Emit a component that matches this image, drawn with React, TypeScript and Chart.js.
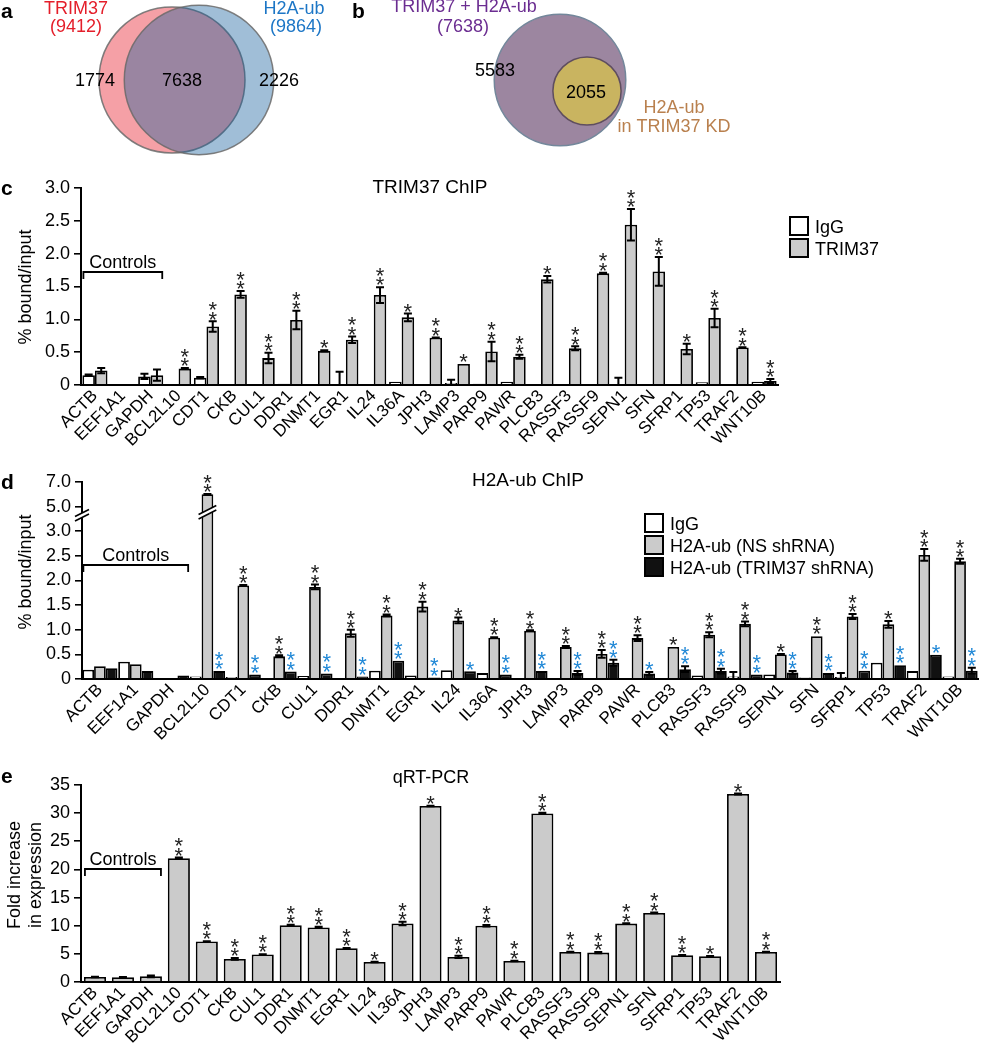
import React, { useEffect, useRef } from 'react';
import { Chart, registerables, LinearScale } from 'chart.js';

Chart.register(...registerables);

const FONT = "'Liberation Sans', Arial, Helvetica, sans-serif";
Chart.defaults.font.family = FONT;
Chart.defaults.color = '#000';

// ---------------- data ----------------
const categories = ['ACTB', 'EEF1A1', 'GAPDH', 'BCL2L10', 'CDT1', 'CKB', 'CUL1', 'DDR1', 'DNMT1', 'EGR1', 'IL24', 'IL36A', 'JPH3', 'LAMP3', 'PARP9', 'PAWR', 'PLCB3', 'RASSF3', 'RASSF9', 'SEPN1', 'SFN', 'SFRP1', 'TP53', 'TRAF2', 'WNT10B'];

// a: Venn TRIM37 vs H2A-ub
const vennALabels = ['TRIM37', 'H2A-ub'];
const vennATotals = [9412, 9864];
const vennARegions = [1774, 7638, 2226];
// b: Venn TRIM37 + H2A-ub vs H2A-ub in TRIM37 KD
const vennBLabels = ['TRIM37 + H2A-ub', 'H2A-ub', 'in TRIM37 KD'];
const vennBTotals = [7638, 2055];
const vennBRegions = [5583, 2055];

// c: TRIM37 ChIP
const cIgG = [0.15, null, 0.13, 0.01, 0.11, 0.01, 0.01, 0.02, 0.01, 0.01, 0.01, 0.05, 0, 0.03, 0.02, 0.05, 0, 0.01, 0.01, 0.01, 0.01, 0, 0.04, 0.01, 0.05];
const cIgGErr = [0.01, 0, 0.04, 0, 0.01, 0, 0, 0, 0, 0.19, 0, 0, 0, 0.05, 0, 0, 0, 0, 0, 0.1, 0, 0, 0, 0, 0];
const cTrim = [0.22, null, 0.15, 0.25, 0.89, 1.38, 0.41, 0.99, 0.52, 0.69, 1.37, 1.03, 0.72, 0.32, 0.51, 0.43, 1.61, 0.56, 1.70, 2.44, 1.73, 0.55, 1.02, 0.57, 0.06];
const cTrimErr = [0.04, 0, 0.085, 0.01, 0.08, 0.05, 0.08, 0.14, 0.01, 0.05, 0.12, 0.06, 0.005, 0, 0.15, 0.03, 0.05, 0.03, 0.01, 0.24, 0.22, 0.08, 0.14, 0.005, 0.03];
const cTrimStars = [0, 0, 0, 2, 2, 2, 2, 2, 1, 2, 2, 1, 2, 1, 2, 2, 1, 2, 2, 2, 2, 1, 2, 2, 2];
const cYTicks = [0, 0.5, 1, 1.5, 2, 2.5, 3];

// d: H2A-ub ChIP
const dIgG = [0.19, 0.35, 0, 0.05, 0.04, 0.01, 0.06, 0.01, 0.17, 0.07, 0.18, 0.12, 0.01, 0.01, 0.01, 0.01, 0.01, 0.07, 0.05, 0.09, 0.03, 0.04, 0.33, 0.16, 0.05];
const dIgGErr = [0, 0, 0, 0, 0, 0, 0, 0, 0, 0, 0, 0, 0, 0, 0, 0, 0, 0, 0.09, 0, 0, 0.08, 0, 0, 0];
const dNS = [0.26, 0.30, 0, 6.0, 1.90, 0.46, 1.87, 0.93, 1.29, 1.47, 1.19, 0.84, 0.98, 0.65, 0.51, 0.83, 0.65, 0.90, 1.12, 0.50, 0.87, 1.27, 1.11, 2.52, 2.39];
const dNSErr = [0, 0, 0, 0.03, 0.01, 0.02, 0.05, 0.07, 0.02, 0.10, 0.06, 0.01, 0.01, 0.02, 0.08, 0.06, 0, 0.05, 0.05, 0.01, 0, 0.05, 0.07, 0.12, 0.05];
const dNSStars = [0, 0, 0, 2, 2, 2, 2, 2, 2, 2, 1, 2, 2, 2, 2, 2, 1, 2, 2, 1, 2, 2, 1, 2, 2];
const dKD = [0.22, 0.16, 0.07, 0.16, 0.09, 0.15, 0.11, 0.05, 0.37, 0.03, 0.155, 0.09, 0.16, 0.12, 0.33, 0.11, 0.20, 0.16, 0.09, 0.13, 0.12, 0.17, 0.28, 0.49, 0.17];
const dKDErr = [0, 0, 0, 0, 0, 0, 0, 0, 0, 0, 0, 0, 0, 0.04, 0.06, 0.03, 0.06, 0.05, 0, 0.03, 0, 0, 0, 0, 0.06];
const dKDStars = [0, 0, 0, 2, 2, 2, 2, 2, 2, 2, 1, 2, 2, 2, 2, 1, 2, 2, 2, 2, 2, 2, 2, 1, 2];
const dYTicks = [0, 0.5, 1, 1.5, 2, 2.5, 3, 5, 7];

// e: qRT-PCR
const eFold = [0.9, 0.85, 1.0, 22.0, 7.2, 4.1, 4.9, 10.1, 9.7, 6.0, 3.56, 10.4, 31.26, 4.45, 10.0, 3.74, 29.95, 5.34, 5.22, 10.38, 12.28, 4.75, 4.57, 33.4, 5.34];
const eErr = [0.05, 0.05, 0.15, 0.1, 0.05, 0.15, 0.05, 0.05, 0.1, 0.05, 0.05, 0.3, 0.05, 0.2, 0.12, 0.05, 0.1, 0.05, 0.1, 0.05, 0.05, 0.05, 0.05, 0.1, 0.05];
const eStars = [0, 0, 0, 2, 2, 2, 2, 2, 2, 2, 1, 2, 1, 2, 2, 2, 2, 2, 2, 2, 2, 2, 1, 1, 2];

// ---------------- broken axis scale ----------------
const BREAK_AT = 3;
const BREAK_SCALE = 0.25;
const toDisp = (v: number) => (v <= BREAK_AT ? v : BREAK_AT + (v - BREAK_AT) * BREAK_SCALE);
const fromDisp = (d: number) => (d <= BREAK_AT ? d : BREAK_AT + (d - BREAK_AT) / BREAK_SCALE);

class BrokenLinearScale extends (LinearScale as any) {
  static id = 'brokenLinear';
  static defaults = (LinearScale as any).defaults;
  getPixelForValue(value: number) {
    if (value === null || value === undefined) return NaN;
    return super.getPixelForValue(toDisp(value));
  }
  getValueForPixel(pixel: number) {
    return fromDisp(super.getValueForPixel(pixel));
  }
}
Chart.register(BrokenLinearScale as any);

// ---------------- colors ----------------
const WHITE = '#ffffff';
const GRAY = '#cbcbcb';
const BLACK = '#111111';
const STAR_BLUE = '#1f87d6';

// ---------------- drawing helpers ----------------
const STAR_SIZE = 22;
function drawStars(ctx: CanvasRenderingContext2D, x: number, topY: number, n: number, color: string) {
  ctx.save();
  ctx.fillStyle = color;
  ctx.font = `${STAR_SIZE}px ${FONT}`;
  ctx.textAlign = 'center';
  ctx.textBaseline = 'alphabetic';
  for (let k = 0; k < n; k++) {
    const cy = topY - 7.5 - k * 9.5;
    ctx.fillText('*', x, cy + 0.58 * STAR_SIZE);
  }
  ctx.restore();
}

function drawBreak(ctx: CanvasRenderingContext2D, cx: number, cy: number, halfW: number, gap: number) {
  const s = 0.5;
  ctx.save();
  ctx.fillStyle = '#fff';
  ctx.beginPath();
  ctx.moveTo(cx - halfW, cy + s * halfW + gap / 2);
  ctx.lineTo(cx + halfW, cy - s * halfW + gap / 2);
  ctx.lineTo(cx + halfW, cy - s * halfW - gap / 2);
  ctx.lineTo(cx - halfW, cy + s * halfW - gap / 2);
  ctx.closePath();
  ctx.fill();
  ctx.strokeStyle = '#000';
  ctx.lineWidth = 1.6;
  for (const g of [gap / 2, -gap / 2]) {
    ctx.beginPath();
    ctx.moveTo(cx - halfW, cy + s * halfW + g);
    ctx.lineTo(cx + halfW, cy - s * halfW + g);
    ctx.stroke();
  }
  ctx.restore();
}

type TextItem = { t: string; x: number; y: number; color?: string; size?: number; bold?: boolean; align?: CanvasTextAlign };

function drawTexts(ctx: CanvasRenderingContext2D, texts: TextItem[]) {
  for (const it of texts) {
    ctx.save();
    ctx.fillStyle = it.color || '#000';
    ctx.font = `${it.bold ? 'bold ' : ''}${it.size || 18}px ${FONT}`;
    ctx.textAlign = it.align || 'center';
    ctx.textBaseline = 'alphabetic';
    ctx.fillText(it.t, it.x, it.y);
    ctx.restore();
  }
}

type Decor = {
  texts: TextItem[];
  yTitle: { lines: string[]; xs: number[]; y: number };
  legend?: { x: number; y: number; dy: number };
  controls: { level: number; catPct: number };
  breakValue?: number;
};

function makeDecor(cfg: Decor) {
  return {
    id: 'decor',
    afterDatasetsDraw(chart: any) {
      const ctx = chart.ctx as CanvasRenderingContext2D;
      const ys = chart.scales.y;
      const bottom = chart.chartArea.bottom;
      chart.data.datasets.forEach((ds: any, di: number) => {
        const meta = chart.getDatasetMeta(di);
        meta.data.forEach((el: any, i: number) => {
          const v = ds.data[i];
          if (v === null || v === undefined) return;
          const e = ds.err ? ds.err[i] || 0 : 0;
          const x = el.x;
          if (e > 0) {
            const yt = ys.getPixelForValue(v + e);
            const lowV = v - e;
            const yb = lowV > 0 ? ys.getPixelForValue(lowV) : bottom;
            ctx.save();
            ctx.strokeStyle = '#000';
            ctx.lineWidth = 2;
            ctx.beginPath();
            ctx.moveTo(x, yt);
            ctx.lineTo(x, yb);
            ctx.moveTo(x - 4, yt);
            ctx.lineTo(x + 4, yt);
            if (lowV > 0) {
              ctx.moveTo(x - 4, yb);
              ctx.lineTo(x + 4, yb);
            }
            ctx.stroke();
            ctx.restore();
          }
          const n = ds.stars ? ds.stars[i] : 0;
          if (n) drawStars(ctx, x, ys.getPixelForValue(v + e), n, ds.starColor || '#222');
        });
      });
    },
    afterDraw(chart: any) {
      const ctx = chart.ctx as CanvasRenderingContext2D;
      const xs = chart.scales.x;
      const ys = chart.scales.y;
      const area = chart.chartArea;
      // axis break marks
      if (cfg.breakValue !== undefined) {
        const by = ys.getPixelForValue(cfg.breakValue);
        drawBreak(ctx, area.left, by, 7, 4.5);
        chart.data.datasets.forEach((ds: any, di: number) => {
          const meta = chart.getDatasetMeta(di);
          meta.data.forEach((el: any, i: number) => {
            const v = ds.data[i];
            if (v !== null && v > (cfg.breakValue as number)) {
              drawBreak(ctx, el.x, by - 3, el.width / 2 + 3, 4.5);
            }
          });
        });
      }
      // Controls bracket
      const cw = xs.getPixelForValue(1) - xs.getPixelForValue(0);
      const half = (cw * cfg.controls.catPct) / 2;
      const bl = xs.getPixelForValue(0) - half + 1;
      const br = xs.getPixelForValue(2) + half - 1;
      const byy = Math.round(ys.getPixelForValue(cfg.controls.level));
      ctx.save();
      ctx.strokeStyle = '#000';
      ctx.lineWidth = 1.8;
      ctx.beginPath();
      ctx.moveTo(bl, byy + 7);
      ctx.lineTo(bl, byy);
      ctx.lineTo(br, byy);
      ctx.lineTo(br, byy + 7);
      ctx.stroke();
      ctx.restore();
      drawTexts(ctx, [{ t: 'Controls', x: (bl + br) / 2, y: byy - 4, size: 18 }]);
      // legend
      if (cfg.legend) {
        const L = cfg.legend;
        chart.data.datasets.forEach((ds: any, i: number) => {
          const y = L.y + i * L.dy;
          ctx.save();
          ctx.fillStyle = ds.backgroundColor;
          ctx.fillRect(L.x, y, 18, 18);
          ctx.strokeStyle = '#000';
          ctx.lineWidth = 2;
          ctx.strokeRect(L.x, y, 18, 18);
          ctx.restore();
          drawTexts(ctx, [{ t: ds.label, x: L.x + 25, y: y + 15.5, size: 18, align: 'left' }]);
        });
      }
      // y title
      cfg.yTitle.lines.forEach((line, i) => {
        ctx.save();
        ctx.translate(cfg.yTitle.xs[i], cfg.yTitle.y);
        ctx.rotate(-Math.PI / 2);
        ctx.fillStyle = '#000';
        ctx.font = `18px ${FONT}`;
        ctx.textAlign = 'center';
        ctx.textBaseline = 'middle';
        ctx.fillText(line, 0, 0);
        ctx.restore();
      });
      drawTexts(ctx, cfg.texts);
    },
  };
}

function barConfig(p: {
  datasets: any[];
  catPct: number;
  yType: string;
  yMax: number;
  yTicks?: number[];
  stepSize?: number;
  padTop: number;
  padRight: number;
  yWidth: number;
  xHeight: number;
  decor: Decor;
}) {
  const yScale: any = {
    type: p.yType,
    min: 0,
    max: p.yMax,
    ticks: {
      font: { size: 18 },
      color: '#000',
      padding: 4,
      stepSize: p.stepSize,
      callback: (v: number) => (p.yTicks ? (v === 0 ? '0' : Number(v).toFixed(1)) : String(v)),
    },
    grid: { display: true, drawOnChartArea: false, drawTicks: true, tickLength: 7, color: '#000', lineWidth: 1.6 },
    border: { display: true, color: '#000', width: 2, z: 1 },
    afterFit: (s: any) => {
      s.width = p.yWidth;
    },
  };
  if (p.yTicks) {
    const t = p.yTicks;
    yScale.afterBuildTicks = (s: any) => {
      s.ticks = t.map((v) => ({ value: v }));
    };
  }
  return {
    type: 'bar' as const,
    data: { labels: categories, datasets: p.datasets.map((d) => ({ ...d, categoryPercentage: p.catPct, barPercentage: 1 })) },
    options: {
      responsive: false,
      animation: false as const,
      devicePixelRatio: 1,
      events: [],
      layout: { padding: { top: p.padTop, right: p.padRight, left: 0, bottom: 0 } },
      plugins: { legend: { display: false }, tooltip: { enabled: false } },
      scales: {
        x: {
          type: 'category',
          offset: true,
          grid: { display: false, drawTicks: false },
          border: { display: true, color: '#000', width: 2, z: 1 },
          ticks: { font: { size: 17 }, color: '#000', minRotation: 45, maxRotation: 45, autoSkip: false, padding: 1 },
          afterFit: (s: any) => {
            s.height = p.xHeight;
          },
        },
        y: yScale,
      },
    },
    plugins: [makeDecor(p.decor)],
  };
}

function bar(label: string, data: (number | null)[], color: string, err: number[], stars?: number[], starColor?: string) {
  return { label, data, backgroundColor: color, borderColor: '#000', borderWidth: 1.8, borderSkipped: 'start', err, stars, starColor };
}

// ---------------- layout ----------------
const W = 981;
const VENN_H = 160;
const C_TOP = 165, C_H = 290;
const D_TOP = 460, D_H = 300;
const E_TOP = 765, E_H = 285;

const cConfig = () =>
  barConfig({
    datasets: [bar('IgG', cIgG, WHITE, cIgGErr), bar('TRIM37', cTrim, GRAY, cTrimErr, cTrimStars, '#222')],
    catPct: 0.9,
    yType: 'linear',
    yMax: 3,
    yTicks: cYTicks,
    padTop: 23,
    padRight: W - 778,
    yWidth: 81,
    xHeight: 70,
    decor: {
      texts: [
        { t: 'c', x: 1, y: 30, size: 21, bold: true, align: 'left' },
        { t: 'TRIM37 ChIP', x: 430, y: 28, size: 19 },
      ],
      yTitle: { lines: ['% bound/input'], xs: [26], y: 122 },
      legend: { x: 790, y: 52, dy: 22 },
      controls: { level: 1.72, catPct: 0.9 },
    },
  });

const dConfig = () =>
  barConfig({
    datasets: [
      bar('IgG', dIgG, WHITE, dIgGErr),
      bar('H2A-ub (NS shRNA)', dNS, GRAY, dNSErr, dNSStars, '#222'),
      bar('H2A-ub (TRIM37 shRNA)', dKD, BLACK, dKDErr, dKDStars, STAR_BLUE),
    ],
    catPct: 0.98,
    yType: 'brokenLinear',
    yMax: toDisp(7),
    yTicks: dYTicks,
    padTop: 22,
    padRight: 3,
    yWidth: 82,
    xHeight: 81,
    decor: {
      texts: [
        { t: 'd', x: 1, y: 29, size: 21, bold: true, align: 'left' },
        { t: 'H2A-ub ChIP', x: 528, y: 26, size: 19 },
      ],
      yTitle: { lines: ['% bound/input'], xs: [26], y: 112 },
      legend: { x: 645, y: 54, dy: 22 },
      controls: { level: 2.31, catPct: 0.98 },
      breakValue: 4.3,
    },
  });

const eConfig = () =>
  barConfig({
    datasets: [bar('qRT-PCR', eFold, GRAY, eErr, eStars, '#222')],
    catPct: 0.79,
    yType: 'linear',
    yMax: 35,
    stepSize: 5,
    padTop: 20,
    padRight: W - 780,
    yWidth: 81,
    xHeight: 68,
    decor: {
      texts: [
        { t: 'e', x: 1, y: 18, size: 21, bold: true, align: 'left' },
        { t: 'qRT-PCR', x: 431, y: 18, size: 18 },
      ],
      yTitle: { lines: ['Fold increase', 'in expression'], xs: [15, 36.5], y: 110 },
      controls: { level: 20, catPct: 0.79 },
    },
  });

// Venn: radius proportional to sqrt(set size)
const R_PER_SQRT = 73 / Math.sqrt(vennATotals[0]);
const rad = (n: number) => R_PER_SQRT * Math.sqrt(n);
const vennCenters = { aLeft: [172, 80], aRight: [199, 80], bOuter: [560, 80], bInner: [587, 91] };

const vennConfig = () => ({
  type: 'bubble' as const,
  data: {
    datasets: [
      { label: vennBLabels[1], data: [{ x: vennCenters.bInner[0], y: vennCenters.bInner[1], r: rad(vennBTotals[1]) }], backgroundColor: 'rgb(201,180,96)', borderColor: 'rgb(95,78,95)', borderWidth: 1.5, order: 0 },
      { label: vennBLabels[0], data: [{ x: vennCenters.bOuter[0], y: vennCenters.bOuter[1], r: rad(vennBTotals[0]) }], backgroundColor: 'rgb(156,134,160)', borderColor: 'rgb(115,135,155)', borderWidth: 1.5, order: 1 },
      { label: vennALabels[1], data: [{ x: vennCenters.aRight[0], y: vennCenters.aRight[1], r: rad(vennATotals[1]) }], backgroundColor: 'rgba(17,92,155,0.4)', borderColor: 'rgba(105,105,105,0.85)', borderWidth: 1.5, order: 2 },
      { label: vennALabels[0], data: [{ x: vennCenters.aLeft[0], y: vennCenters.aLeft[1], r: rad(vennATotals[0]) }], backgroundColor: 'rgb(245,160,166)', borderColor: 'rgba(105,105,105,0.85)', borderWidth: 1.5, order: 3 },
    ],
  },
  options: {
    responsive: false,
    animation: false as const,
    devicePixelRatio: 1,
    events: [],
    layout: { padding: 0, autoPadding: false },
    plugins: { legend: { display: false }, tooltip: { enabled: false } },
    scales: {
      x: { type: 'linear', min: 0, max: W, display: false },
      y: { type: 'linear', min: 0, max: VENN_H, reverse: true, display: false },
    },
  },
  plugins: [
    {
      id: 'vennText',
      afterDraw(chart: any) {
        const ctx = chart.ctx as CanvasRenderingContext2D;
        const RED = '#e41e2a';
        const BLUE = '#1c76c6';
        const PURPLE = '#6b2d91';
        const BROWN = '#b9804e';
        drawTexts(ctx, [
          { t: 'a', x: 1, y: 18, size: 21, bold: true, align: 'left' },
          { t: vennALabels[0], x: 76, y: 14, color: RED },
          { t: `(${vennATotals[0]})`, x: 76, y: 32, color: RED },
          { t: vennALabels[1], x: 294, y: 14, color: BLUE },
          { t: `(${vennATotals[1]})`, x: 296, y: 32, color: BLUE },
          { t: String(vennARegions[0]), x: 95, y: 86 },
          { t: String(vennARegions[1]), x: 182, y: 86 },
          { t: String(vennARegions[2]), x: 279, y: 86 },
          { t: 'b', x: 352, y: 18, size: 21, bold: true, align: 'left' },
          { t: vennBLabels[0], x: 464, y: 12, color: PURPLE },
          { t: `(${vennBTotals[0]})`, x: 463, y: 32, color: PURPLE },
          { t: String(vennBRegions[0]), x: 495, y: 76 },
          { t: String(vennBRegions[1]), x: 586, y: 98 },
          { t: vennBLabels[1], x: 674, y: 113, color: BROWN },
          { t: vennBLabels[2], x: 674, y: 132, color: BROWN },
        ]);
      },
    },
  ],
});

// ---------------- component ----------------
export default function App() {
  const vRef = useRef<HTMLCanvasElement>(null);
  const cRef = useRef<HTMLCanvasElement>(null);
  const dRef = useRef<HTMLCanvasElement>(null);
  const eRef = useRef<HTMLCanvasElement>(null);

  useEffect(() => {
    const charts: Chart[] = [];
    if (vRef.current) charts.push(new Chart(vRef.current, vennConfig() as any));
    if (cRef.current) charts.push(new Chart(cRef.current, cConfig() as any));
    if (dRef.current) charts.push(new Chart(dRef.current, dConfig() as any));
    if (eRef.current) charts.push(new Chart(eRef.current, eConfig() as any));
    return () => charts.forEach((c) => c.destroy());
  }, []);

  const abs = (top: number, h: number): React.CSSProperties => ({ position: 'absolute', left: 0, top, width: W, height: h, display: 'block' });

  return (
    <div style={{ position: 'absolute', left: 0, top: 0, width: W, height: 1050, background: '#fff', overflow: 'hidden' }}>
      <canvas ref={vRef} width={W} height={VENN_H} style={abs(0, VENN_H)} />
      <canvas ref={cRef} width={W} height={C_H} style={abs(C_TOP, C_H)} />
      <canvas ref={dRef} width={W} height={D_H} style={abs(D_TOP, D_H)} />
      <canvas ref={eRef} width={W} height={E_H} style={abs(E_TOP, E_H)} />
    </div>
  );
}
